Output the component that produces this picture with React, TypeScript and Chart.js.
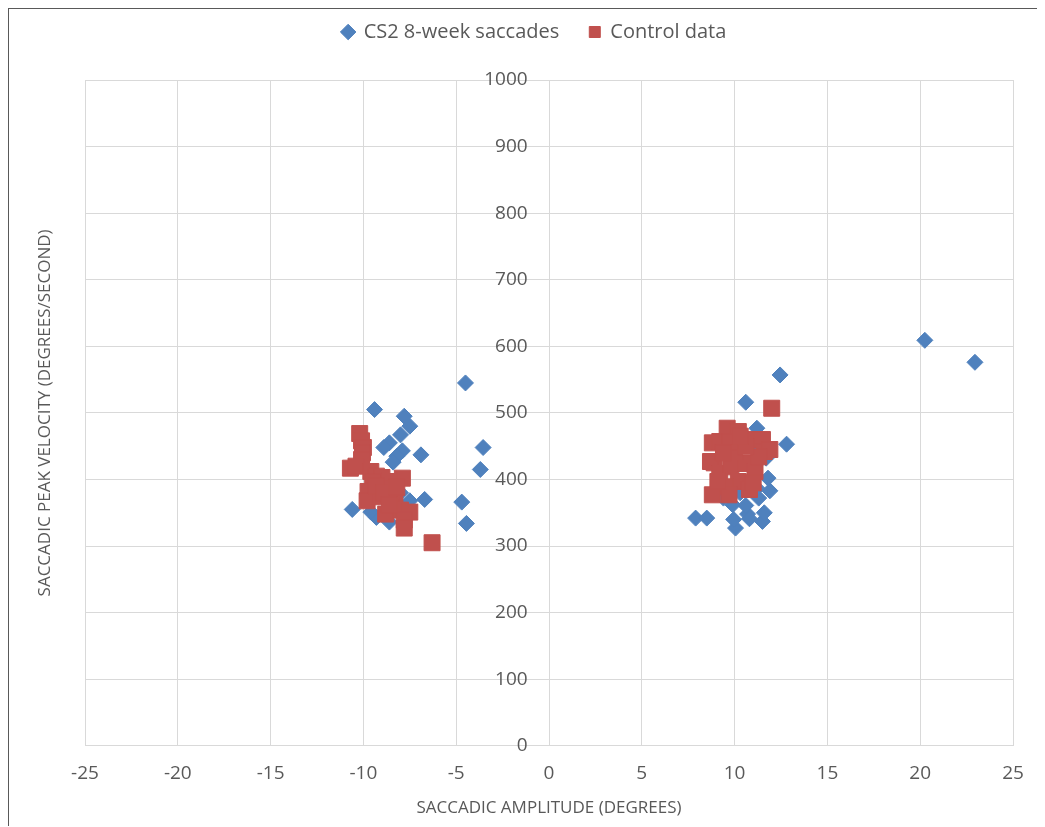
import React, { useEffect, useRef } from "react";
import { Chart, registerables } from "chart.js";

Chart.register(...registerables);

const seriesNames = ["CS2 8-week saccades", "Control data"];

const cs2X = [
  -9.4, -7.8, -7.5, -8.0, -8.6, -8.9, -7.9, -8.2, -8.4, -6.9, -10.6, -9.3, -8.6, -7.5, -6.7,
  -4.5, -3.55, -3.7, -4.7, -4.45, -8.0, -8.7, -9.6,
  12.45, 10.6, 12.8, 11.2, 7.9, 8.5, 10.05, 9.95, 10.7, 10.8, 11.5, 11.6, 11.9, 11.8, 11.3,
  11.2, 10.6, 9.9, 9.4, 11.7, 11.1, 11.6, 10.5, 10.3, 9.8, 20.25, 22.95,
];
const cs2Y = [
  505, 495, 480, 467, 455, 448, 443, 435, 426, 437, 355, 343, 336, 368, 370,
  545, 448, 415, 366, 334, 380, 372, 351,
  557, 516, 453, 477, 342, 342, 327, 340, 348, 341, 337, 350, 383, 402, 372,
  387, 361, 362, 372, 432, 450, 440, 395, 380, 388, 609, 576,
];

const controlX = [
  -10.2, -10.1, -10.0, -10.05, -10.1, -10.7, -10.4, -9.6, -9.3, -9.0, -7.9, -9.5, -8.6, -9.75,
  -9.8, -9.0, -9.1, -8.3, -8.5, -8.8, -8.0, -7.5, -7.8, -7.8, -6.3, -9.3, -8.9, -8.2, -8.6,
  12.0, 9.6, 8.8, 9.2, 10.2, 10.8, 11.5, 11.6, 11.9, 8.9, 8.7, 9.2, 9.8, 10.6, 11.1, 10.2, 9.5,
  8.8, 9.7, 10.8, 9.1, 10.0, 11.3, 10.6, 9.75, 10.3, 9.4, 11.0,
];
const controlY = [
  469, 458, 448, 440, 430, 417, 420, 412, 405, 403, 402, 396, 397, 382,
  368, 386, 374, 371, 360, 348, 354, 351, 339, 327, 305, 390, 380, 388, 362,
  507, 477, 455, 457, 472, 460, 460, 442, 445, 425, 427, 409, 419, 424, 412, 397, 389,
  377, 377, 385, 397, 442, 434, 449, 457, 465, 440, 395,
];

const xTicks = { min: -25, max: 25, step: 5 };
const yTicks = { min: 0, max: 1000, step: 100 };
const xTitle = "SACCADIC AMPLITUDE (DEGREES)";
const yTitle = "SACCADIC PEAK VELOCITY (DEGREES/SECOND)";

const BLUE = "#4f81bd";
const RED = "#c0504d";
const TEXT = "#595959";
const GRID = "#d9d9d9";

export default function App() {
  const ref = useRef<HTMLCanvasElement | null>(null);

  useEffect(() => {
    if (!ref.current) return;
    Chart.defaults.font.family = "'Open Sans', sans-serif";
    const spacer = (size: number, horizontal: boolean) => ({
      type: "linear" as const,
      ticks: { display: false },
      grid: { display: false },
      border: { display: false },
      afterFit: (s: any) => {
        if (horizontal) s.height = size;
        else s.width = size;
      },
    });
    const chart = new Chart(ref.current, {
      type: "scatter",
      data: {
        datasets: [
          {
            label: seriesNames[0],
            data: cs2X.map((x, i) => ({ x, y: cs2Y[i] })),
            xAxisID: "x",
            yAxisID: "y",
            pointStyle: "rectRot",
            pointRadius: 8,
            backgroundColor: BLUE,
            borderColor: BLUE,
            borderWidth: 1,
            order: 1,
          },
          {
            label: seriesNames[1],
            data: controlX.map((x, i) => ({ x, y: controlY[i] })),
            xAxisID: "x",
            yAxisID: "y",
            pointStyle: "rect",
            pointRadius: 11.3,
            backgroundColor: RED,
            borderColor: RED,
            borderWidth: 1,
            order: 0,
          },
        ],
      },
      options: {
        animation: false,
        responsive: true,
        maintainAspectRatio: false,
        layout: { padding: { left: 22, right: 6, top: -17, bottom: 8 } },
        plugins: {
          tooltip: { enabled: false },
          legend: {
            position: "top",
            labels: {
              usePointStyle: true,
              boxWidth: 11,
              boxHeight: 11,
              padding: 30,
              color: TEXT,
              font: { size: 20 },
              sort: (a: any, b: any) => a.datasetIndex - b.datasetIndex,
            },
          },
        },
        scales: {
          x: {
            type: "linear",
            position: "bottom",
            min: xTicks.min,
            max: xTicks.max,
            ticks: { stepSize: xTicks.step, color: TEXT, font: { size: 19 }, padding: 16 },
            grid: { color: GRID, drawTicks: false, lineWidth: 1 },
            border: { color: GRID },
            title: {
              display: true,
              text: xTitle,
              color: TEXT,
              font: { size: 17 },
              padding: { top: -3, bottom: 0 },
            },
          },
          y: {
            type: "linear",
            position: { x: -1.15 },
            min: yTicks.min,
            max: yTicks.max,
            ticks: {
              stepSize: yTicks.step,
              color: TEXT,
              font: { size: 19 },
              callback: (v: any) => String(v),
            },
            grid: { color: GRID, drawTicks: false },
            border: { display: false },
            afterFit: (s: any) => {
              s.width = 0;
            },
          },
          xt: { ...spacer(28, true), position: "top" },
          yr: { ...spacer(25, false), position: "right" },
          yt: {
            type: "linear",
            position: "left",
            ticks: { display: false },
            grid: { display: false },
            border: { display: false },
            title: {
              display: true,
              text: yTitle,
              color: TEXT,
              font: { size: 17 },
              padding: { top: 4, bottom: 4 },
            },
            afterFit: (s: any) => {
              s.width = 54;
            },
          },
        },
      },
    });
    return () => chart.destroy();
  }, []);

  return (
    <div
      style={{
        width: 1037,
        height: 819,
        boxSizing: "border-box",
        borderTop: "2px solid #595959",
        borderLeft: "2px solid #595959",
        marginTop: -1,
        marginLeft: -1,
      }}
    >
      <div style={{ position: "relative", width: 1035, height: 817 }}>
        <canvas ref={ref} />
      </div>
    </div>
  );
}
